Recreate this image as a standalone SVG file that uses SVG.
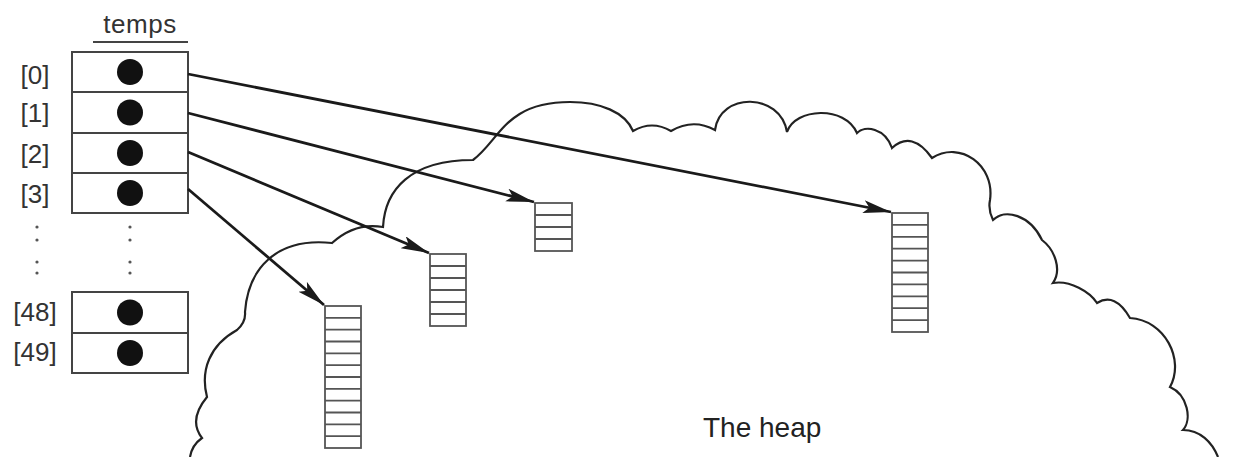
<svg xmlns="http://www.w3.org/2000/svg" width="1260" height="457" viewBox="0 0 1260 457">
<style>
  .lbl { font-family: "Liberation Sans", Arial, sans-serif; font-size: 26px; fill: #333; text-anchor: middle; }
  .heap { font-family: "Liberation Sans", Arial, sans-serif; font-size: 28px; fill: #222; }
  .box { fill: #fff; stroke: #444; stroke-width: 2; }
  .div { fill: none; stroke: #444; stroke-width: 2; }
  .arr { fill: #fff; stroke: #555; stroke-width: 1.8; }
  .cells { fill: none; stroke: #555; stroke-width: 1.8; }
  .dot { fill: #111; }
  .sdot { fill: #555; }
  .cloud { fill: none; stroke: #222; stroke-width: 2.2; }
  .conn { fill: none; stroke: #1a1a1a; stroke-width: 2.8; marker-end: url(#ah); }
</style>
<defs>
  <marker id="ah" markerUnits="userSpaceOnUse" markerWidth="30" markerHeight="14" refX="28" refY="6.5" orient="auto">
    <path d="M0,0 L28,6.5 L0,13 L6,6.5 z" fill="#1a1a1a"/>
  </marker>
</defs>
<rect width="1260" height="457" fill="#fff"/>

<g id="heap">
  <path class="cloud" d="M190,457 Q192,445 202,438 Q188,420 207,397 C200,370 210,345 237,330 Q246,322 245,312 C248,270 275,237 332,243 Q355,222 383,227 C385,190 410,160 473,160 C500,140 505,102 570,102 C600,102 625,112 633,131 Q652,120 671,131 Q693,118 715,130 C720,92 780,92 787,132 C795,108 845,105 857,133 C865,125 885,128 892,148 Q912,130 932,158 C960,140 995,165 990,200 Q988,210 993,220 C1005,208 1030,215 1042,240 C1055,250 1062,270 1053,283 C1070,280 1090,292 1097,303 Q1115,292 1130,318 C1165,320 1185,360 1170,387 C1188,395 1192,420 1183,430 C1200,430 1212,442 1218,457"/>
  <text class="heap" x="703" y="437">The heap</text>
</g>

<g id="temps">
  <text class="lbl" x="140" y="33" letter-spacing="0.5">temps</text>
  <line x1="93" y1="42" x2="188" y2="42" stroke="#444" stroke-width="2"/>
  <rect class="box" x="72" y="52" width="116" height="161"/>
  <path class="div" d="M72,92 H188 M72,133 H188 M72,173 H188"/>
  <circle class="dot" cx="130" cy="72" r="13"/>
  <circle class="dot" cx="130" cy="112.5" r="13"/>
  <circle class="dot" cx="130" cy="153" r="13"/>
  <circle class="dot" cx="130" cy="193" r="13"/>
  <text class="lbl" x="35" y="84">[0]</text>
  <text class="lbl" x="35" y="122">[1]</text>
  <text class="lbl" x="35" y="163">[2]</text>
  <text class="lbl" x="35" y="203">[3]</text>
  <circle class="sdot" cx="37" cy="227" r="1.6"/>
  <circle class="sdot" cx="37" cy="240" r="1.6"/>
  <circle class="sdot" cx="37" cy="262" r="1.6"/>
  <circle class="sdot" cx="37" cy="273" r="1.6"/>
  <circle class="sdot" cx="130" cy="227" r="1.6"/>
  <circle class="sdot" cx="130" cy="240" r="1.6"/>
  <circle class="sdot" cx="130" cy="262" r="1.6"/>
  <circle class="sdot" cx="130" cy="273" r="1.6"/>
  <rect class="box" x="72" y="292" width="116" height="81"/>
  <path class="div" d="M72,333 H188"/>
  <circle class="dot" cx="130" cy="312.5" r="13"/>
  <circle class="dot" cx="130" cy="353" r="13"/>
  <text class="lbl" x="35" y="321">[48]</text>
  <text class="lbl" x="35" y="361">[49]</text>
</g>

<g id="arrayA">
  <rect class="arr" x="325" y="306" width="36" height="142"/>
  <path class="cells" d="M325,317.8 H361 M325,329.7 H361 M325,341.5 H361 M325,353.3 H361 M325,365.2 H361 M325,377 H361 M325,388.8 H361 M325,400.7 H361 M325,412.5 H361 M325,424.3 H361 M325,436.2 H361"/>
</g>
<g id="arrayB">
  <rect class="arr" x="430" y="254" width="36" height="72"/>
  <path class="cells" d="M430,266 H466 M430,278 H466 M430,290 H466 M430,302 H466 M430,314 H466"/>
</g>
<g id="arrayC">
  <rect class="arr" x="535" y="203" width="37" height="48"/>
  <path class="cells" d="M535,215 H572 M535,227 H572 M535,239 H572"/>
</g>
<g id="arrayD">
  <rect class="arr" x="892" y="213" width="36" height="119"/>
  <path class="cells" d="M892,224.9 H928 M892,236.8 H928 M892,248.7 H928 M892,260.6 H928 M892,272.5 H928 M892,284.4 H928 M892,296.3 H928 M892,308.2 H928 M892,320.1 H928"/>
</g>

<g id="connectors">
  <line class="conn" x1="188" y1="74" x2="891" y2="212"/>
  <line class="conn" x1="188" y1="113" x2="534" y2="202"/>
  <line class="conn" x1="188" y1="152" x2="429" y2="253"/>
  <line class="conn" x1="188" y1="189" x2="324" y2="305"/>
</g>
</svg>
